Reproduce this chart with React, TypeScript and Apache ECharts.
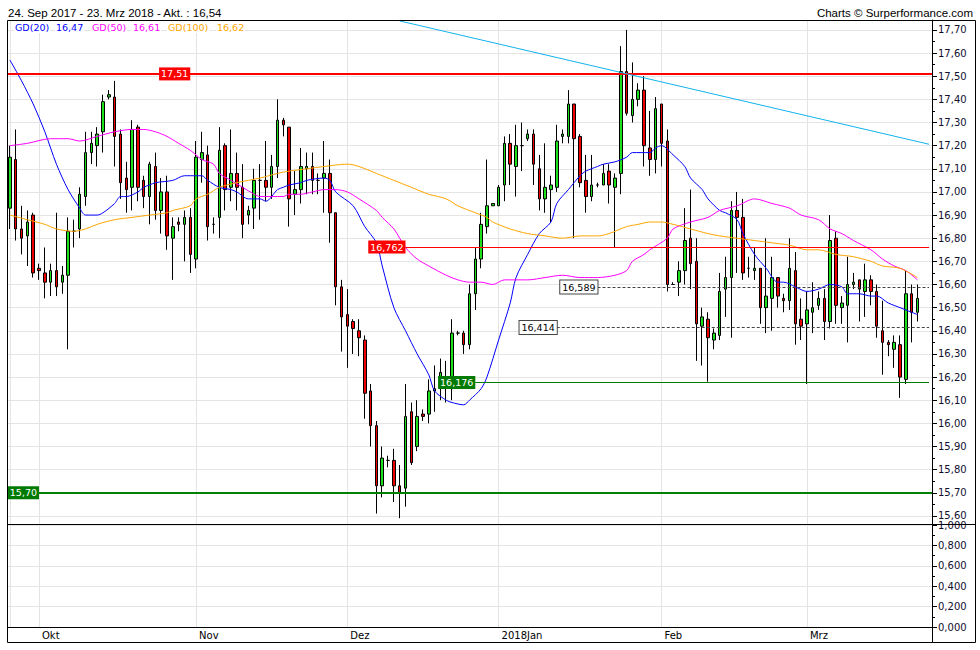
import React, { useEffect, useRef } from "react";
import * as echarts from "echarts";

// ---- data ----
const openP = [
  16.93, 17.14, 16.84, 16.81, 16.90, 16.67, 16.65, 16.61, 16.66, 16.61,
  16.64, 16.83, 16.84, 16.98, 17.17, 17.20, 17.26, 17.41, 17.41, 17.25,
  17.06, 17.02, 17.28, 17.05, 16.98, 17.11, 16.92, 17.00, 16.80, 16.87,
  16.86, 16.89, 16.71, 17.14, 17.16, 16.86, 16.89, 17.20, 17.02, 17.08,
  17.02, 16.90, 16.93, 17.05, 17.05, 17.02, 17.11, 17.31, 17.28, 16.99,
  17.01, 17.10, 17.11, 17.05, 17.06, 17.08, 16.91, 16.59, 16.47, 16.44,
  16.40, 16.36, 16.14, 15.99, 15.73, 15.84, 15.84, 15.73, 15.72, 16.05,
  15.90, 16.04, 16.04, 16.14, 16.15, 16.19, 16.15, 16.39, 16.39, 16.34,
  16.56, 16.71, 16.85, 16.94, 16.94, 17.03, 17.21, 17.11, 17.20, 17.23,
  17.25, 17.10, 16.97, 17.01, 17.02, 17.24, 17.24, 17.38, 17.24, 17.05,
  16.98, 17.03, 17.03, 17.09, 17.02, 17.08, 17.52, 17.33, 17.40, 17.44,
  17.19, 17.14, 17.38, 17.22, 16.60, 16.61, 16.66, 16.80, 16.70, 16.42,
  16.45, 16.36, 16.38, 16.58, 16.63, 16.92, 16.89, 16.67, 16.66, 16.67,
  16.50, 16.54, 16.63, 16.54, 16.53, 16.66, 16.45, 16.43, 16.48, 16.51,
  16.54, 16.44, 16.80, 16.50, 16.51, 16.60, 16.62, 16.57, 16.62, 16.57,
  16.40, 16.35, 16.32, 16.34, 16.19, 16.56, 16.48,
];
const closeP = [
  17.15, 16.84, 16.80, 16.87, 16.65, 16.66, 16.61, 16.66, 16.59, 16.64,
  16.83, 16.83, 16.99, 17.17, 17.21, 17.25, 17.39, 17.42, 17.24, 17.04,
  17.01, 17.27, 17.02, 16.98, 17.12, 16.92, 17.00, 16.81, 16.85, 16.86,
  16.89, 16.73, 17.15, 17.17, 16.85, 16.86, 17.18, 17.01, 17.08, 17.02,
  16.86, 16.92, 17.05, 17.05, 17.02, 17.11, 17.31, 17.29, 16.97, 17.01,
  17.11, 17.11, 17.05, 17.05, 17.08, 16.91, 16.59, 16.46, 16.42, 16.41,
  16.37, 16.13, 15.99, 15.73, 15.85, 15.84, 15.73, 15.70, 16.03, 15.83,
  16.03, 16.03, 16.14, 16.15, 16.22, 16.17, 16.39, 16.39, 16.34, 16.56,
  16.71, 16.86, 16.94, 16.95, 17.02, 17.21, 17.12, 17.20, 17.20, 17.25,
  17.12, 16.97, 17.02, 17.03, 17.22, 17.25, 17.38, 17.23, 17.04, 16.98,
  17.03, 17.03, 17.08, 17.03, 17.06, 17.52, 17.34, 17.40, 17.44, 17.20,
  17.14, 17.36, 17.21, 16.60, 16.60, 16.66, 16.79, 16.69, 16.43, 16.46,
  16.37, 16.39, 16.57, 16.63, 16.92, 16.89, 16.65, 16.67, 16.67, 16.50,
  16.55, 16.63, 16.55, 16.53, 16.67, 16.43, 16.42, 16.49, 16.50, 16.54,
  16.44, 16.79, 16.51, 16.52, 16.60, 16.61, 16.58, 16.62, 16.57, 16.42,
  16.35, 16.34, 16.35, 16.20, 16.56, 16.48, 16.54,
];
const lowP = [
  16.84, 16.79, 16.73, 16.68, 16.63, 16.62, 16.54, 16.55, 16.55, 16.56,
  16.32, 16.76, 16.80, 16.94, 17.12, 17.11, 17.17, 17.40, 17.11, 16.97,
  16.91, 16.92, 16.96, 16.93, 16.86, 16.88, 16.82, 16.75, 16.62, 16.83,
  16.70, 16.65, 16.67, 17.04, 16.79, 16.82, 16.80, 16.92, 16.96, 16.92,
  16.80, 16.86, 16.84, 16.88, 16.96, 16.97, 17.06, 17.24, 16.85, 16.90,
  16.95, 16.99, 16.99, 16.99, 16.91, 16.78, 16.51, 16.31, 16.24, 16.30,
  16.29, 16.02, 15.90, 15.61, 15.68, 15.81, 15.66, 15.59, 15.64, 15.82,
  15.88, 16.01, 16.00, 16.05, 16.10, 16.09, 16.10, 16.38, 16.30, 16.32,
  16.49, 16.67, 16.82, 16.94, 16.94, 16.96, 17.03, 16.98, 17.09, 17.22,
  17.03, 16.92, 16.91, 16.87, 17.00, 17.21, 17.21, 16.80, 17.02, 16.91,
  16.96, 17.02, 17.03, 16.95, 16.76, 16.99, 17.33, 17.30, 17.37, 17.11,
  17.07, 17.08, 17.11, 16.57, 16.60, 16.55, 16.60, 16.58, 16.27, 16.25,
  16.18, 16.32, 16.36, 16.46, 16.37, 16.65, 16.62, 16.63, 16.62, 16.43,
  16.39, 16.40, 16.50, 16.48, 16.49, 16.34, 16.36, 16.17, 16.39, 16.49,
  16.36, 16.41, 16.43, 16.43, 16.35, 16.58, 16.44, 16.46, 16.51, 16.37,
  16.21, 16.29, 16.24, 16.11, 16.17, 16.35, 16.44,
];
const highP = [
  17.20, 17.27, 16.94, 16.92, 16.91, 16.69, 16.76, 16.69, 16.91, 16.68,
  16.89, 16.88, 17.02, 17.26, 17.26, 17.28, 17.42, 17.44, 17.48, 17.27,
  17.13, 17.31, 17.29, 17.07, 17.13, 17.17, 17.06, 17.07, 16.89, 16.89,
  16.92, 16.93, 17.22, 17.26, 17.20, 16.89, 17.28, 17.21, 17.27, 17.17,
  17.12, 16.94, 17.10, 17.12, 17.22, 17.16, 17.40, 17.32, 17.28, 17.09,
  17.19, 17.17, 17.17, 17.08, 17.22, 17.14, 16.91, 16.62, 16.58, 16.45,
  16.45, 16.38, 16.17, 16.01, 15.90, 15.86, 15.89, 15.82, 16.17, 16.09,
  16.10, 16.06, 16.19, 16.25, 16.28, 16.27, 16.45, 16.40, 16.40, 16.60,
  16.76, 16.91, 17.14, 16.95, 17.03, 17.24, 17.25, 17.29, 17.30, 17.27,
  17.27, 17.16, 17.21, 17.07, 17.29, 17.27, 17.44, 17.38, 17.25, 17.16,
  17.16, 17.04, 17.12, 17.12, 17.08, 17.63, 17.70, 17.56, 17.47, 17.50,
  17.35, 17.41, 17.38, 17.27, 16.61, 16.70, 16.93, 17.01, 16.80, 16.50,
  16.48, 16.41, 16.65, 16.72, 16.96, 17.00, 16.97, 16.72, 16.76, 16.67,
  16.80, 16.72, 16.63, 16.56, 16.80, 16.74, 16.54, 16.57, 16.61, 16.57,
  16.58, 16.90, 16.83, 16.55, 16.72, 16.65, 16.62, 16.69, 16.64, 16.60,
  16.53, 16.36, 16.38, 16.38, 16.66, 16.60, 16.60,
];

// moving averages read at sample points: [candle index, value]
const gd20 = [
  [0, 17.57], [2, 17.48], [4, 17.38], [6, 17.26], [8, 17.12], [10, 17.01], [12, 16.93], [13, 16.9],
  [15, 16.9], [16, 16.91], [18, 16.95], [19, 16.98], [20, 16.98], [22, 17.0], [23, 17.02], [24, 17.03],
  [25, 17.04], [28, 17.05], [30, 17.07], [32, 17.07], [33, 17.07], [34, 17.05], [36, 17.02], [38, 17.01],
  [39, 17.0], [41, 16.97], [43, 16.97], [44, 16.96], [46, 17.01], [47, 17.02], [48, 17.03], [50, 17.04],
  [51, 17.05], [54, 17.06], [55, 17.05], [56, 17.0], [59, 16.94], [61, 16.85], [63, 16.78], [64, 16.68],
  [66, 16.5], [68, 16.4], [70, 16.3], [72, 16.21], [73, 16.14], [75, 16.1], [76, 16.09], [78, 16.08],
  [79, 16.1], [81, 16.15], [82, 16.2], [84, 16.36], [86, 16.52], [87, 16.63], [89, 16.73], [91, 16.82],
  [93, 16.87], [94, 16.95], [96, 17.01], [98, 17.07], [99, 17.09], [101, 17.11], [102, 17.12], [104, 17.13],
  [106, 17.15], [107, 17.17], [110, 17.17], [111, 17.19], [112, 17.2], [114, 17.16], [116, 17.11], [117, 17.06],
  [119, 17.01], [120, 16.97], [122, 16.92], [123, 16.91], [125, 16.88], [126, 16.82], [128, 16.73], [130, 16.67],
  [132, 16.61], [133, 16.61], [135, 16.59], [137, 16.57], [139, 16.58], [141, 16.6], [143, 16.59], [144, 16.56],
  [146, 16.56], [148, 16.55], [149, 16.55], [151, 16.52], [153, 16.5], [155, 16.48], [156, 16.47],
];
const gd50 = [
  [0, 17.2], [3, 17.21], [7, 17.23], [10, 17.23], [12, 17.22], [15, 17.24], [18, 17.26], [21, 17.27],
  [23, 17.27], [25, 17.26], [27, 17.24], [29, 17.21], [31, 17.18], [33, 17.14], [35, 17.12], [36, 17.08],
  [38, 17.05], [40, 17.02], [42, 16.99], [43, 16.98], [45, 16.98], [47, 16.98], [48, 16.99], [50, 16.99],
  [52, 17.0], [54, 17.01], [56, 17.01], [58, 17.0], [60, 16.97], [63, 16.92], [64, 16.89], [66, 16.84],
  [68, 16.76], [70, 16.71], [72, 16.68], [75, 16.64], [77, 16.62], [79, 16.61], [81, 16.61], [83, 16.6],
  [85, 16.62], [89, 16.62], [92, 16.63], [95, 16.64], [98, 16.63], [101, 16.63], [104, 16.64], [106, 16.66],
  [107, 16.7], [109, 16.73], [110, 16.75], [113, 16.8], [114, 16.84], [117, 16.87], [120, 16.89], [122, 16.92],
  [125, 16.94], [128, 16.97], [131, 16.95], [134, 16.93], [136, 16.9], [139, 16.88], [141, 16.84], [143, 16.82],
  [145, 16.79], [148, 16.75], [150, 16.71], [152, 16.68], [154, 16.66], [156, 16.62],
];
const gd100 = [
  [0, 16.9], [3, 16.88], [6, 16.86], [8, 16.84], [11, 16.83], [13, 16.84], [15, 16.86], [18, 16.88],
  [21, 16.89], [24, 16.9], [27, 16.91], [28, 16.92], [31, 16.94], [32, 16.97], [34, 16.99], [36, 17.02],
  [39, 17.04], [41, 17.05], [43, 17.06], [46, 17.08], [48, 17.09], [51, 17.1], [54, 17.11], [58, 17.12],
  [60, 17.11], [63, 17.08], [66, 17.05], [69, 17.02], [72, 16.99], [75, 16.97], [77, 16.94], [80, 16.91],
  [82, 16.89], [83, 16.87], [86, 16.84], [89, 16.82], [92, 16.81], [95, 16.8], [98, 16.81], [101, 16.81],
  [103, 16.82], [106, 16.85], [108, 16.86], [110, 16.87], [112, 16.87], [114, 16.86], [117, 16.84], [120, 16.82],
  [122, 16.81], [125, 16.8], [128, 16.79], [131, 16.78], [134, 16.77], [137, 16.75], [139, 16.75], [142, 16.73],
  [145, 16.72], [148, 16.7], [150, 16.68], [153, 16.67], [156, 16.63],
];

// trend line: two points [candle index, price]
const trendLine = [[67, 17.739], [158, 17.206]];

const monthIdx = [5, 32, 58, 84, 112, 137];
const monthLabels = ["Okt", "Nov", "Dez", "2018Jan", "Feb", "Mrz"];
const vGridIdx = [0, 5, 32, 58, 84, 112, 137];
const priceTicks = [15.6, 15.7, 15.8, 15.9, 16.0, 16.1, 16.2, 16.3, 16.4, 16.5, 16.6, 16.7, 16.8, 16.9, 17.0, 17.1, 17.2, 17.3, 17.4, 17.5, 17.6, 17.7];
const priceMinorTicks = [15.65, 15.75, 15.85, 15.95, 16.05, 16.15, 16.25, 16.35, 16.45, 16.55, 16.65, 16.75, 16.85, 16.95, 17.05, 17.15, 17.25, 17.35, 17.45, 17.55, 17.65];
const legendItems = [
  { name: "GD(20)", value: "16,47", color: "#0000ff" },
  { name: "GD(50)", value: "16,61", color: "#ff00ff" },
  { name: "GD(100)", value: "16,62", color: "#ffa500" },
];
const SLOTS = 159;

const FONT = "DejaVu Sans, Verdana, sans-serif";

export default function App() {
  const ref = useRef<HTMLDivElement>(null);
  useEffect(() => {
    if (!ref.current) return;
    const chart = echarts.init(ref.current, undefined, { renderer: "svg" });
    const cats = Array.from({ length: SLOTS }, (_, i) => String(i));
    const candles = openP.map((o, i) => [o, closeP[i], lowP[i], highP[i]]);
    const fmt2 = (v: number) => v.toFixed(2).replace(".", ",");

    const levelLabel = (text: string, bg: string, fg: string, border?: string) => ({
      show: true,
      position: "start",
      distance: 0,
      formatter: text,
      backgroundColor: bg,
      color: fg,
      borderColor: border || bg,
      borderWidth: border ? 1 : 0,
      padding: [2, 2, 1, 2],
      fontSize: 9.5,
      fontFamily: FONT,
    });
    const last = SLOTS - 1;

    const legendGraphics: any[] = [];
    const legendX = [14, 55, 91, 132, 167, 216];
    legendItems.forEach((it, k) => {
      legendGraphics.push({
        type: "text", x: legendX[k * 2], y: 27,
        style: { text: it.name, fill: it.color, font: `9.5px ${FONT}`, textVerticalAlign: "middle", backgroundColor: "#fff", padding: [1, 1] },
        z: 20,
      });
      legendGraphics.push({
        type: "text", x: legendX[k * 2 + 1], y: 27,
        style: { text: it.value, fill: it.color, font: `9.5px ${FONT}`, textVerticalAlign: "middle", backgroundColor: "#fff", padding: [1, 1] },
        z: 20,
      });
    });

    chart.setOption({
      animation: false,
      backgroundColor: "#fff",
      grid: [
        { left: 7, top: 20, width: 925, height: 504 },
        { left: 7, top: 525, width: 925, height: 102 },
      ],
      xAxis: [
        {
          type: "category", gridIndex: 0, data: cats, boundaryGap: true,
          axisLine: { show: false }, axisTick: { show: false }, axisLabel: { show: false },
          splitLine: { show: true, alignWithLabel: true, interval: (i: number) => vGridIdx.includes(i), lineStyle: { color: "#e4e4e4", width: 1 } },
        },
        {
          type: "category", gridIndex: 1, data: cats, boundaryGap: true,
          axisLine: { show: false }, axisTick: { show: false },
          axisLabel: {
            show: true, interval: (i: number) => monthIdx.includes(i),
            formatter: (_v: string, i: number) => { const k = monthIdx.indexOf(i); return k >= 0 ? monthLabels[k] : ""; },
            align: "left", padding: [0, 0, 0, 3], margin: 3, fontSize: 10, color: "#000", fontFamily: FONT,
          },
          splitLine: { show: true, alignWithLabel: true, interval: (i: number) => vGridIdx.includes(i), lineStyle: { color: "#e4e4e4", width: 1 } },
        },
      ],
      yAxis: [
        {
          type: "value", gridIndex: 0, position: "right", min: 15.565, max: 17.743, scale: true,
          axisLine: { show: true, lineStyle: { color: "#000" } },
          axisTick: { show: true, length: 5, customValues: priceTicks, lineStyle: { color: "#000" } },
          axisLabel: { show: true, customValues: priceTicks, formatter: fmt2, margin: 6, fontSize: 10, color: "#101030", fontFamily: FONT },
          splitLine: { show: true, lineStyle: { color: "#e4e4e4" } },
        },
        {
          type: "value", gridIndex: 0, position: "right", min: 15.565, max: 17.743, scale: true,
          axisLine: { show: false },
          axisTick: { show: true, length: 3, customValues: priceMinorTicks, lineStyle: { color: "#000" } },
          axisLabel: { show: false }, splitLine: { show: false },
        },
        {
          type: "value", gridIndex: 1, position: "right", min: 0, max: 1, interval: 0.2,
          axisLine: { show: true, lineStyle: { color: "#000" } },
          axisTick: { show: true, length: 5, lineStyle: { color: "#000" } },
          minorTick: { show: true, splitNumber: 2, length: 3, lineStyle: { color: "#000" } },
          axisLabel: { formatter: (v: number) => v.toFixed(3).replace(".", ","), margin: 6, fontSize: 10, color: "#101030", fontFamily: FONT },
          splitLine: { show: true, lineStyle: { color: "#e4e4e4" } },
        },
      ],
      series: [
        {
          type: "candlestick", xAxisIndex: 0, yAxisIndex: 0, data: candles, barWidth: 3,
          itemStyle: { color: "#1be01b", color0: "#ee0000", borderColor: "#000", borderColor0: "#000", borderColorDoji: "#000", borderWidth: 1 },
          markLine: {
            silent: true, symbol: ["none", "none"], animation: false, precision: 3,
            label: { show: false },
            data: [
              { yAxis: 17.51, lineStyle: { color: "#ff0000", width: 2, type: "solid" }, label: { show: false } },
              [{ coord: [31, 17.51], lineStyle: { color: "#ff0000", width: 2, type: "solid" }, label: levelLabel("17,51", "#ff0000", "#fff") }, { coord: [last, 17.51] }],
              { yAxis: 15.7, lineStyle: { color: "#008000", width: 2, type: "solid" }, label: { show: false } },
              [{ coord: [5, 15.7], lineStyle: { color: "#008000", width: 2, type: "solid" }, label: levelLabel("15,70", "#007a00", "#fff") }, { coord: [last, 15.7] }],
              [{ coord: [68, 16.762], lineStyle: { color: "#ff0000", width: 1, type: "solid" }, label: levelLabel("16,762", "#ff0000", "#fff") }, { coord: [last, 16.762] }],
              [{ coord: [80, 16.176], lineStyle: { color: "#007a00", width: 1, type: "solid" }, label: levelLabel("16,176", "#007a00", "#fff") }, { coord: [last, 16.176] }],
              [{ coord: [101, 16.589], lineStyle: { color: "#444", width: 1, type: [3, 2] }, label: levelLabel("16,589", "#fff", "#000", "#444") }, { coord: [last, 16.589] }],
              [{ coord: [94, 16.414], lineStyle: { color: "#444", width: 1, type: [3, 2] }, label: levelLabel("16,414", "#fff", "#000", "#444") }, { coord: [last, 16.414] }],
              [{ coord: trendLine[0], lineStyle: { color: "#12b4ee", width: 1, type: "solid" }, label: { show: false } }, { coord: trendLine[1] }],
            ],
          },
        },
        { type: "line", name: "GD(20)", xAxisIndex: 0, yAxisIndex: 0, data: gd20, showSymbol: false, symbol: "none", smooth: 0.3, lineStyle: { color: "#0000ff", width: 1 }, z: 3 },
        { type: "line", name: "GD(50)", xAxisIndex: 0, yAxisIndex: 0, data: gd50, showSymbol: false, symbol: "none", smooth: 0.3, lineStyle: { color: "#ff00ff", width: 1 }, z: 3 },
        { type: "line", name: "GD(100)", xAxisIndex: 0, yAxisIndex: 0, data: gd100, showSymbol: false, symbol: "none", smooth: 0.3, lineStyle: { color: "#ffa500", width: 1 }, z: 3 },
      ],
      graphic: [
        { type: "rect", shape: { x: 7.5, y: 20.5, width: 968, height: 622 }, style: { fill: "none", stroke: "#000", lineWidth: 1 }, silent: true, z: 30 },
        { type: "line", shape: { x1: 7, y1: 524.5, x2: 976, y2: 524.5 }, style: { stroke: "#000", lineWidth: 1 }, silent: true, z: 30 },
        { type: "line", shape: { x1: 7, y1: 627.5, x2: 932, y2: 627.5 }, style: { stroke: "#000", lineWidth: 1 }, silent: true, z: 30 },
        { type: "line", shape: { x1: 932.5, y1: 20, x2: 932.5, y2: 642 }, style: { stroke: "#000", lineWidth: 1 }, silent: true, z: 30 },
        { type: "text", x: 8, y: 13, style: { text: "24. Sep 2017 - 23. Mrz 2018 - Akt. : 16,54", fill: "#000", font: "11.5px 'Liberation Sans', Arial, sans-serif", textVerticalAlign: "middle" }, z: 30 },
        { type: "text", x: 973, y: 13, style: { text: "Charts © Surperformance.com", fill: "#000", font: "11.5px 'Liberation Sans', Arial, sans-serif", textAlign: "right", textVerticalAlign: "middle" }, z: 30 },
        ...legendGraphics,
      ],
    });
    return () => chart.dispose();
  }, []);
  return <div ref={ref} style={{ position: "fixed", left: 0, top: 0, width: 980, height: 650, background: "#fff" }} />;
}
